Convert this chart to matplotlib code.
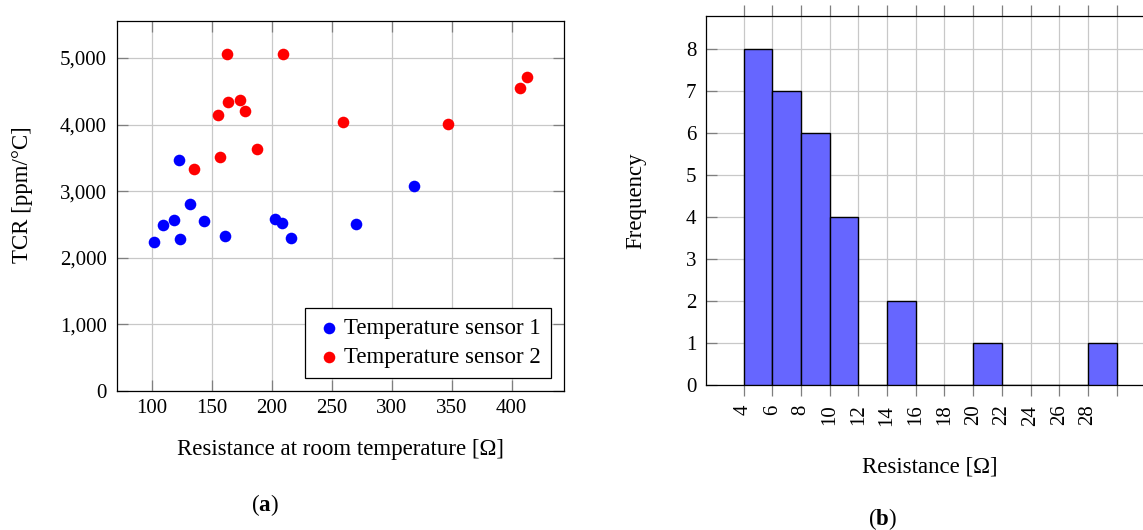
import numpy as np
import matplotlib
matplotlib.use("Agg")
import matplotlib.pyplot as plt
from matplotlib.ticker import StrMethodFormatter

OUT_FILE = "out.png"

# (a) TCR vs resistance, two sensor types
SENSOR1_R = [122.5, 318.3, 131.9, 118.6, 143.3, 202.5, 208.8, 109.7, 270.0, 101.7, 123.6, 161.4, 216.4]
SENSOR1_TCR = [3470, 3085, 2810, 2575, 2560, 2590, 2525, 2490, 2500, 2240, 2275, 2330, 2290]
SENSOR2_R = [162.8, 209.7, 412.5, 406.7, 163.9, 173.8, 178.0, 155.5, 259.4, 346.7, 188.0, 156.9, 135.2]
SENSOR2_TCR = [5060, 5060, 4709, 4555, 4340, 4375, 4200, 4145, 4040, 4004, 3630, 3515, 3335]
SCATTER_XTICKS = [100, 150, 200, 250, 300, 350, 400]
SCATTER_YTICKS = [0, 1000, 2000, 3000, 4000, 5000]

# (b) histogram of resistance
BIN_EDGES = [4, 6, 8, 10, 12, 14, 16, 18, 20, 22, 24, 26, 28, 30]
COUNTS = [8, 7, 6, 4, 0, 2, 0, 0, 1, 0, 0, 0, 1]
HIST_XTICKLABELS = ["4", "6", "8", "10", "12", "14", "16", "18", "20", "22", "24", "26", "28", ""]
HIST_YTICKS = [0, 1, 2, 3, 4, 5, 6, 7, 8]

GRID = "#c8c8c8"
TICK = "#7f7f7f"
TICK_FS = 15
LABEL_FS = 16.5


def style_axes(ax):
    for s in ax.spines.values():
        s.set_linewidth(0.9)
        s.set_color("black")
    ax.grid(True, color=GRID, linewidth=0.9)
    ax.set_axisbelow(True)


def plot_scatter(ax):
    ax.scatter(SENSOR1_R, SENSOR1_TCR, s=70, color="#0000ff", linewidths=0,
               label="Temperature sensor 1", zorder=3)
    ax.scatter(SENSOR2_R, SENSOR2_TCR, s=70, color="#ff0000", linewidths=0,
               label="Temperature sensor 2", zorder=3)

    ax.set_xlim(70.8, 443.6)
    ax.set_ylim(0, 5560)
    ax.set_xticks(SCATTER_XTICKS)
    ax.set_yticks(SCATTER_YTICKS)
    ax.yaxis.set_major_formatter(StrMethodFormatter("{x:,.0f}"))
    ax.tick_params(direction="in", length=8, width=0.9, color=TICK,
                   top=True, right=True, labelsize=TICK_FS)
    ax.tick_params(axis="x", pad=6)
    ax.tick_params(axis="y", pad=7)
    style_axes(ax)

    ax.set_xlabel("Resistance at room temperature [Ω]", fontsize=LABEL_FS, va="center")
    ax.xaxis.set_label_coords(0.5, -0.157)
    ax.set_ylabel("TCR [ppm/°C]", fontsize=LABEL_FS, va="center")
    ax.yaxis.set_label_coords(-0.21, 0.53)

    leg = ax.legend(loc="lower right", bbox_to_anchor=(1 - 13 / 447.3, 12.7 / 370.3),
                    borderaxespad=0, fontsize=LABEL_FS, fancybox=False, framealpha=1,
                    edgecolor="black", handletextpad=0.05, handlelength=1.2,
                    borderpad=0.45, labelspacing=0.35)
    leg.get_frame().set_linewidth(0.9)


def plot_hist(ax):
    edges = np.array(BIN_EDGES)
    ax.bar(edges[:-1], COUNTS, width=np.diff(edges), align="edge",
           color="#6666ff", edgecolor="black", linewidth=1.0, zorder=3)

    ax.set_xlim(1.4, 32.6)
    ax.set_ylim(0, 8.8)
    ax.set_xticks(BIN_EDGES)
    ax.set_xticklabels(HIST_XTICKLABELS, rotation=90)
    ax.set_yticks(HIST_YTICKS)
    ax.tick_params(axis="x", direction="out", length=8, width=0.9, color=TICK,
                   top=True, labelsize=TICK_FS, pad=6)
    ax.tick_params(axis="y", direction="in", length=8, width=0.9, color=TICK,
                   right=True, labelsize=TICK_FS, pad=7)
    style_axes(ax)

    ax.set_xlabel("Resistance [Ω]", fontsize=LABEL_FS, va="center")
    ax.xaxis.set_label_coords(0.5, -0.22)
    ax.set_ylabel("Frequency", fontsize=LABEL_FS, va="center")
    ax.yaxis.set_label_coords(-0.157, 0.5)


def main():
    plt.rcParams["font.family"] = ["Liberation Serif", "DejaVu Serif"]
    plt.rcParams["mathtext.fontset"] = "custom"
    plt.rcParams["mathtext.rm"] = "Liberation Serif"
    plt.rcParams["mathtext.bf"] = "Liberation Serif:bold"

    fig = plt.figure(figsize=(11.43, 5.3), dpi=100)
    fig.patch.set_facecolor("white")

    ax_a = fig.add_axes([116.7 / 1143, 139 / 530, 447.3 / 1143, 370.3 / 530])
    ax_b = fig.add_axes([706.3 / 1143, 144.7 / 530, 447.7 / 1143, 369.6 / 530])

    plot_scatter(ax_a)
    plot_hist(ax_b)

    fig.text(265 / 1143, 1 - 505 / 530, r"($\mathbf{a}$)", ha="center", va="center", fontsize=LABEL_FS)
    fig.text(882 / 1143, 1 - 519 / 530, r"($\mathbf{b}$)", ha="center", va="center", fontsize=LABEL_FS)

    fig.savefig(OUT_FILE, dpi=100)


if __name__ == "__main__":
    main()
